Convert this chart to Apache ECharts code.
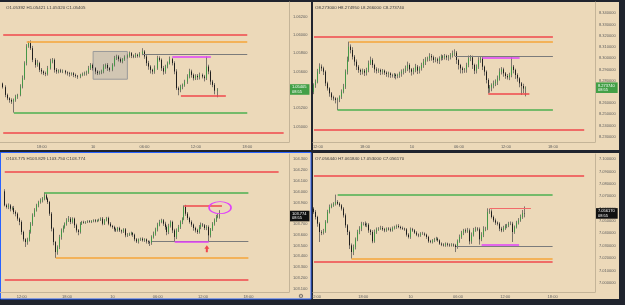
<!DOCTYPE html>
<html>
<head>
<meta charset="utf-8">
<script src="https://cdn.jsdelivr.net/npm/echarts@6/dist/echarts.min.js"></script>
<style>
html, body { margin: 0; padding: 0; background: #20242e; }
#main { width: 625px; height: 305px; }
</style>
</head>
<body>
<div id="main"></div>
<script>
// 15 minute bars, slot = bar number counted from 00:00 of day 9
var tlStart = 54;
var tlOpen = 1.05470;
var tlClose = [
    1.05430, 1.05346, 1.05309, 1.05291, 1.05273, 1.05291, 1.05328, 1.05346, 1.05437, 1.05528,
    1.05692, 1.05874, 1.05910, 1.05855, 1.05728, 1.05673, 1.05692, 1.05619, 1.05601, 1.05582,
    1.05575, 1.05637, 1.05710, 1.05728, 1.05619, 1.05601, 1.05612, 1.05601, 1.05608, 1.05590,
    1.05582, 1.05575, 1.05582, 1.05564, 1.05553, 1.05546, 1.05564, 1.05575, 1.05582, 1.05590,
    1.05637, 1.05673, 1.05637, 1.05601, 1.05582, 1.05590, 1.05601, 1.05655, 1.05673, 1.05637,
    1.05619, 1.05673, 1.05746, 1.05764, 1.05735, 1.05710, 1.05735, 1.05757, 1.05772, 1.05801,
    1.05772, 1.05764, 1.05783, 1.05772, 1.05794, 1.05819, 1.05764, 1.05692, 1.05655, 1.05619,
    1.05601, 1.05637, 1.05746, 1.05728, 1.05637, 1.05601, 1.05655, 1.05692, 1.05735, 1.05692,
    1.05601, 1.05419, 1.05400, 1.05437, 1.05455, 1.05491, 1.05546, 1.05601, 1.05564, 1.05528,
    1.05553, 1.05539, 1.05564, 1.05546, 1.05528, 1.05655, 1.05601, 1.05491, 1.05455, 1.05392,
    1.05405
];
// wicks in 0.00001
var tlWickUp = [
    10, 20, 15, 12, 18, 15, 20, 12, 25, 30,
    20, 25, 20, 30, 25, 20, 35, 15, 20, 12,
    18, 25, 30, 20, 15, 20, 12, 18, 15, 10,
    12, 15, 10, 12, 15, 10, 12, 15, 18, 20,
    25, 20, 15, 12, 15, 18, 20, 25, 15, 20,
    12, 18, 25, 20, 15, 18, 12, 20, 15, 18,
    12, 15, 20, 12, 18, 36, 15, 20, 25, 15,
    12, 30, 26, 20, 15, 25, 20, 18, 29, 15,
    20, 25, 18, 20, 15, 20, 25, 30, 20, 15,
    18, 20, 25, 15, 18, 109, 20, 15, 18, 20,
    16
];
var tlWickDn = [
    15, 25, 20, 30, 25, 120, 20, 25, 15, 20,
    18, 25, 15, 20, 25, 30, 20, 25, 30, 20,
    25, 18, 15, 20, 30, 25, 20, 15, 18, 20,
    25, 30, 20, 25, 20, 25, 18, 15, 20, 25,
    15, 20, 25, 30, 20, 15, 18, 20, 25, 30,
    20, 15, 18, 20, 25, 15, 20, 18, 15, 20,
    25, 18, 15, 20, 18, 15, 25, 30, 35, 40,
    30, 25, 18, 20, 30, 35, 25, 20, 15, 25,
    30, 20, 58, 25, 30, 20, 25, 20, 30, 25,
    20, 30, 25, 20, 35, 20, 30, 35, 25, 40,
    72
];
var tlTicks = [1.050, 1.052, 1.054, 1.056, 1.058, 1.060, 1.062];
var tlLevels = [
    ['red', 1.06000, 54, 168],
    ['orange', 1.05930, 65, 168],
    ['gray', 1.05794, 119, 168],
    ['magenta', 1.05764, 133, 151],
    ['red', 1.05342, 137, 158],
    ['green', 1.05153, 59, 168],
    ['red', 1.04938, 54, 185]
];
var tlBox = [96, 1.05819, 112, 1.05517];

var trStart = 46;
var trOpen = 8.27000;
var trClose = [
    8.27614, 8.27911, 8.28802, 8.29247, 8.29099, 8.28802, 8.27762, 8.27317, 8.26871, 8.26516,
    8.26426, 8.26277, 8.26337, 8.26574, 8.27020, 8.27465, 8.28802, 8.29842, 8.31030, 8.30733,
    8.30139, 8.29693, 8.29247, 8.28950, 8.28802, 8.28891, 8.28713, 8.28950, 8.29545, 8.29842,
    8.29396, 8.29010, 8.28891, 8.28950, 8.28802, 8.28891, 8.28713, 8.28594, 8.28653, 8.28505,
    8.28476, 8.28535, 8.28416, 8.28505, 8.28653, 8.28802, 8.28891, 8.29099, 8.29396, 8.29010,
    8.28802, 8.28950, 8.29247, 8.28891, 8.29099, 8.29396, 8.29693, 8.29901, 8.29990, 8.30198,
    8.30080, 8.29842, 8.29901, 8.29783, 8.29990, 8.30139, 8.30080, 8.30198, 8.30080, 8.30139,
    8.30258, 8.30436, 8.30495, 8.29842, 8.29396, 8.29099, 8.28950, 8.29010, 8.29396, 8.29990,
    8.30080, 8.29396, 8.28891, 8.29247, 8.29842, 8.29990, 8.29247, 8.28802, 8.28059, 8.27317,
    8.27407, 8.27614, 8.27762, 8.27911, 8.28208, 8.28802, 8.29010, 8.28653, 8.28416, 8.28298,
    8.28505, 8.29247, 8.28950, 8.28505, 8.28208, 8.27762, 8.27525, 8.27300, 8.27374
];
// wicks in 0.0001
var trWickUp = [
    15, 20, 25, 30, 20, 15, 12, 15, 10, 12,
    15, 10, 15, 12, 20, 25, 20, 30, 45, 20,
    25, 15, 20, 15, 12, 18, 15, 20, 25, 30,
    15, 12, 18, 15, 12, 15, 10, 12, 15, 10,
    12, 15, 10, 12, 15, 20, 18, 25, 30, 15,
    12, 20, 25, 15, 18, 20, 25, 20, 15, 25,
    18, 15, 20, 15, 18, 20, 15, 18, 12, 15,
    20, 25, 30, 15, 12, 10, 15, 12, 20, 25,
    20, 15, 12, 20, 25, 15, 12, 10, 12, 15,
    20, 15, 25, 20, 25, 30, 20, 15, 12, 18,
    20, 83, 15, 12, 15, 10, 12, 20, 12.1
];
var trWickDn = [
    20, 25, 15, 20, 25, 30, 25, 20, 30, 25,
    20, 30, 89, 25, 20, 15, 20, 25, 15, 30,
    25, 35, 30, 25, 30, 25, 30, 25, 20, 15,
    25, 30, 25, 20, 30, 25, 20, 25, 30, 25,
    20, 25, 30, 20, 25, 30, 25, 20, 25, 30,
    35, 25, 20, 30, 25, 20, 25, 30, 20, 25,
    30, 25, 20, 25, 30, 20, 25, 20, 25, 30,
    25, 20, 25, 35, 40, 45, 30, 25, 30, 20,
    25, 35, 30, 25, 20, 25, 30, 35, 30, 45,
    39, 35, 30, 25, 30, 20, 25, 30, 25, 20,
    25, 20, 30, 35, 30, 35, 80, 40, 70
];
var trTicks = [8.23, 8.24, 8.25, 8.26, 8.27, 8.28, 8.29, 8.30, 8.31, 8.32, 8.33, 8.34];
var trLevels = [
    ['red', 8.31921, 46, 168],
    ['orange', 8.31476, 64, 168],
    ['gray', 8.30139, 118, 168],
    ['magenta', 8.30080, 132, 151],
    ['red', 8.26871, 135, 156],
    ['green', 8.25387, 58, 168],
    ['red', 8.23666, 46, 184]
];

var blStart = 39;
var blOpen = 104.003;
var blClose = [
    103.873, 103.858, 103.873, 103.842, 103.848, 103.811, 103.796, 103.750, 103.719, 103.626,
    103.558, 103.533, 103.558, 103.626, 103.703, 103.781, 103.827, 103.873, 103.904, 103.920,
    103.935, 103.966, 103.935, 103.904, 103.796, 103.657, 103.533, 103.440, 103.487, 103.580,
    103.641, 103.672, 103.703, 103.734, 103.750, 103.719, 103.750, 103.688, 103.641, 103.626,
    103.703, 103.719, 103.713, 103.719, 103.725, 103.719, 103.728, 103.734, 103.725, 103.734,
    103.740, 103.750, 103.703, 103.734, 103.756, 103.703, 103.682, 103.672, 103.651, 103.641,
    103.663, 103.641, 103.632, 103.651, 103.595, 103.601, 103.610, 103.617, 103.601, 103.558,
    103.539, 103.558, 103.564, 103.549, 103.558, 103.539, 103.533, 103.527, 103.580, 103.610,
    103.651, 103.694, 103.719, 103.734, 103.703, 103.672, 103.626, 103.682, 103.719, 103.641,
    103.580, 103.641, 103.672, 103.719, 103.750, 103.858, 103.796, 103.756, 103.719, 103.694,
    103.663, 103.641, 103.626, 103.672, 103.694, 103.688, 103.663, 103.672, 103.595, 103.651,
    103.703, 103.734, 103.765, 103.775, 103.774
];
// wicks in 0.001
var blWickUp = [
    20, 15, 18, 12, 15, 20, 15, 12, 10, 15,
    12, 10, 15, 20, 15, 18, 20, 15, 12, 18,
    15, 28, 15, 12, 10, 15, 12, 10, 15, 20,
    18, 15, 12, 20, 24, 15, 12, 10, 15, 12,
    15, 10, 12, 8, 10, 12, 8, 10, 12, 8,
    10, 12, 15, 12, 10, 12, 15, 10, 12, 15,
    10, 12, 8, 10, 12, 15, 10, 12, 8, 10,
    12, 8, 10, 12, 10, 8, 10, 12, 15, 20,
    15, 18, 20, 15, 12, 18, 15, 20, 15, 12,
    15, 18, 20, 15, 12, 15, 20, 15, 12, 15,
    10, 12, 15, 18, 20, 15, 12, 18, 15, 12,
    15, 18, 20, 25, 54
];
var blWickDn = [
    10, 15, 20, 25, 15, 20, 25, 20, 30, 25,
    20, 46, 25, 20, 15, 20, 15, 12, 18, 15,
    20, 15, 12, 18, 20, 25, 30, 55, 25, 20,
    25, 20, 15, 18, 15, 20, 15, 25, 20, 30,
    15, 12, 10, 12, 10, 8, 10, 12, 10, 8,
    10, 12, 15, 12, 10, 15, 12, 15, 20, 15,
    12, 15, 20, 15, 18, 15, 12, 15, 20, 18,
    15, 20, 15, 12, 15, 20, 18, 31, 20, 15,
    18, 20, 15, 12, 20, 25, 30, 20, 15, 25,
    41, 20, 15, 18, 20, 15, 20, 18, 15, 20,
    25, 20, 18, 15, 20, 15, 18, 20, 56, 20,
    15, 18, 15, 12, 24
];
var blTicks = [103.1, 103.2, 103.3, 103.4, 103.5, 103.6, 103.7, 103.8, 103.9, 104.0, 104.1, 104.2, 104.3];
var blLevels = [
    ['red', 104.1825, 39, 184],
    ['green', 103.994, 60, 168],
    ['red', 103.873, 134, 154],
    ['gray', 103.539, 117, 168],
    ['magenta', 103.539, 129, 147],
    ['orange', 103.385, 66, 168],
    ['red', 103.181, 39, 168]
];
var blCircle = [153, 103.852];
var blArrow = [146, 103.471];

var brStart = 47;
var brOpen = 7.06002;
var brClose = [
    7.05732, 7.05327, 7.04787, 7.04111, 7.04057, 7.04165, 7.04922, 7.05732, 7.06137, 7.06272,
    7.06407, 7.06542, 7.06407, 7.06272, 7.06002, 7.05462, 7.04652, 7.04111, 7.03031, 7.02491,
    7.02896, 7.03517, 7.04111, 7.04382, 7.04787, 7.04787, 7.04652, 7.04706, 7.04246, 7.04111,
    7.03355, 7.04111, 7.04327, 7.04382, 7.04436, 7.04327, 7.04246, 7.04382, 7.04327, 7.04246,
    7.04436, 7.04517, 7.04598, 7.04517, 7.04436, 7.04382, 7.04327, 7.03895, 7.03706, 7.04327,
    7.04246, 7.04057, 7.03895, 7.03841, 7.03976, 7.03976, 7.03895, 7.03706, 7.03355, 7.03301,
    7.03436, 7.03517, 7.03571, 7.03436, 7.03166, 7.03085, 7.03031, 7.03166, 7.03085, 7.03031,
    7.03085, 7.03031, 7.02896, 7.03355, 7.03706, 7.04057, 7.04246, 7.04165, 7.04246, 7.03355,
    7.03895, 7.04246, 7.04382, 7.04327, 7.03517, 7.03895, 7.04327, 7.04382, 7.05732, 7.05786,
    7.05327, 7.05057, 7.04868, 7.04787, 7.04382, 7.04246, 7.04436, 7.04598, 7.04652, 7.04787,
    7.04787, 7.04111, 7.04517, 7.04868, 7.05057, 7.05327, 7.05644, 7.05617
];
// wicks in 0.0001
var brWickUp = [
    12, 15, 10, 12, 15, 20, 15, 18, 20, 15,
    12, 60, 15, 12, 10, 12, 15, 10, 12, 15,
    20, 15, 18, 20, 15, 12, 18, 15, 12, 10,
    15, 20, 15, 12, 18, 15, 12, 10, 12, 15,
    12, 10, 12, 15, 10, 12, 8, 10, 12, 15,
    12, 10, 12, 10, 12, 15, 10, 8, 10, 12,
    10, 12, 15, 10, 8, 10, 12, 10, 8, 10,
    12, 10, 12, 15, 20, 15, 12, 15, 20, 15,
    18, 20, 15, 12, 15, 20, 25, 15, 30, 21,
    15, 12, 15, 10, 12, 15, 18, 15, 12, 15,
    18, 15, 12, 15, 18, 20, 25, 54
];
var brWickDn = [
    15, 20, 25, 81, 20, 15, 12, 10, 12, 10,
    12, 15, 10, 12, 15, 18, 20, 25, 30, 54,
    25, 20, 15, 18, 20, 15, 12, 15, 20, 25,
    15, 12, 15, 12, 10, 12, 15, 12, 10, 12,
    10, 12, 15, 10, 12, 10, 12, 15, 12, 15,
    12, 10, 12, 15, 12, 10, 12, 15, 12, 10,
    12, 15, 10, 12, 10, 12, 10, 12, 15, 12,
    10, 12, 41, 15, 12, 15, 20, 15, 12, 25,
    20, 15, 12, 15, 43, 15, 20, 15, 12, 15,
    12, 15, 18, 15, 20, 15, 12, 15, 18, 15,
    12, 81, 15, 12, 15, 12, 15, 31.7
];
var brTicks = [7.00, 7.01, 7.02, 7.03, 7.04, 7.05, 7.06, 7.07, 7.08, 7.09, 7.10];
var brLevels = [
    ['red', 7.08703, 47, 184],
    ['green', 7.07137, 59, 168],
    ['salmon', 7.06002, 136, 157],
    ['gray', 7.02950, 119, 168],
    ['magenta', 7.03085, 132, 151],
    ['orange', 7.01950, 66, 168],
    ['red', 7.01680, 47, 168]
];

var countdown = '08:55';

var levelStyle = {
    red: {color: '#f0474d', width: 1.5},
    salmon: {color: '#f26b6b', width: 1.2},
    orange: {color: '#f6a43a', width: 1.5},
    green: {color: '#4caf50', width: 1.5},
    gray: {color: '#7b7b7b', width: 1},
    magenta: {color: '#e040fb', width: 1.5}
};

var FONT = 'Liberation Sans';
var BG = '#ecd9b9';
var AXIS_LINE = '#c4b498';
var LABEL = '#5e5e5e';
var WICK = '#6f6a63';

// layout of the four panes
var panes = [
    {grid: {left: 0, top: 2, width: 289, height: 140}, catFrom: 53, catCount: 135, min: 1.04833, max: 1.06358, digits: 5,
     start: tlStart, open: tlOpen, close: tlClose, up: tlWickUp, dn: tlWickDn, unit: 0.00001,
     ticks: tlTicks, levels: tlLevels, priceBg: '#43a047', head: [6, 8]},
    {grid: {left: 313, top: 2, width: 282, height: 140}, catFrom: 46, catCount: 144, min: 8.22536, max: 8.35010, digits: 6,
     start: trStart, open: trOpen, close: trClose, up: trWickUp, dn: trWickDn, unit: 0.0001,
     ticks: trTicks, levels: trLevels, priceBg: '#43a047', head: [315, 8]},
    {grid: {left: 0, top: 154, width: 289, height: 138}, catFrom: 37, catCount: 153, min: 103.0694, max: 104.3495, digits: 3,
     start: blStart, open: blOpen, close: blClose, up: blWickUp, dn: blWickDn, unit: 0.001,
     ticks: blTicks, levels: blLevels, priceBg: '#111111', head: [6, 159]},
    {grid: {left: 313, top: 154, width: 282, height: 138}, catFrom: 47, catCount: 143, min: 6.99249, max: 7.10432, digits: 6,
     start: brStart, open: brOpen, close: brClose, up: brWickUp, dn: brWickDn, unit: 0.0001,
     ticks: brTicks, levels: brLevels, priceBg: '#111111', head: [315, 159]}
];

function slotLabel(slot) {
    var m = slot % 96;
    if (m === 0) return String(9 + slot / 96);
    var h = m / 4;
    return (h < 10 ? '0' : '') + h + ':00';
}

function makeCandles(p) {
    var full = [], body = [], prev = p.open;
    for (var i = 0; i < p.close.length; i++) {
        var o = prev, c = p.close[i];
        var top = Math.max(o, c), bot = Math.min(o, c);
        var x = String(p.start + i);
        full.push([x, o, c, bot - (p.dn[i] || 0) * p.unit, top + (p.up[i] || 0) * p.unit]);
        body.push([x, o, c, bot, top]);
        prev = c;
    }
    return {full: full, body: body};
}

var grids = [], xAxes = [], yAxes = [], series = [], graphics = [];

graphics.push({type: 'rect', z: -10, shape: {x: 0, y: 2, width: 311, height: 148}, style: {fill: BG}});
graphics.push({type: 'rect', z: -10, shape: {x: 313, y: 2, width: 306, height: 148}, style: {fill: BG}});
graphics.push({type: 'rect', z: -10, shape: {x: 0.5, y: 152.5, width: 310.5, height: 146.5}, style: {fill: BG, stroke: '#2962ff', lineWidth: 1}});
graphics.push({type: 'rect', z: -10, shape: {x: 313, y: 153, width: 306, height: 146}, style: {fill: BG}});
graphics.push({type: 'text', x: 301, y: 296, style: {text: '\u2699', fill: '#555', font: '6px DejaVu Sans', textAlign: 'center', textVerticalAlign: 'middle'}});

panes.forEach(function (p, k) {
    var cats = [];
    for (var s = p.catFrom; s < p.catFrom + p.catCount; s++) cats.push(String(s));
    var candles = makeCandles(p);
    var last = candles.full[candles.full.length - 1];

    grids.push(p.grid);
    xAxes.push({
        gridIndex: k, type: 'category', data: cats, boundaryGap: true,
        axisLine: {show: true, lineStyle: {color: AXIS_LINE, width: 1}},
        axisTick: {show: false},
        splitLine: {show: false},
        axisLabel: {
            interval: function (i, v) { return (+v) % 24 === 0; },
            formatter: function (v) { return slotLabel(+v); },
            fontSize: 4, margin: 3, color: LABEL, fontFamily: FONT
        }
    });
    yAxes.push({
        gridIndex: k, type: 'value', position: 'right', min: p.min, max: p.max,
        axisLine: {show: true, lineStyle: {color: AXIS_LINE, width: 1}},
        axisTick: {show: false},
        splitLine: {show: false},
        axisLabel: {
            customValues: p.ticks,
            formatter: function (v) { return v.toFixed(p.digits); },
            fontSize: 4, margin: 4, color: LABEL, fontFamily: FONT
        }
    });

    series.push({
        type: 'candlestick', xAxisIndex: k, yAxisIndex: k, data: candles.full,
        encode: {x: 0, y: [1, 2, 3, 4]}, barWidth: '60%', animation: false, silent: true,
        itemStyle: {color: WICK, color0: WICK, borderColor: WICK, borderColor0: WICK, borderWidth: 0.9}
    });

    var lines = p.levels.map(function (lv) {
        var st = levelStyle[lv[0]];
        return [
            {coord: [String(lv[2]), lv[1]], lineStyle: {color: st.color, width: st.width, type: 'solid'}},
            {coord: [String(lv[3]), lv[1]]}
        ];
    });

    var body = {
        type: 'candlestick', xAxisIndex: k, yAxisIndex: k, data: candles.body,
        encode: {x: 0, y: [1, 2, 3, 4]}, barWidth: '60%', animation: false, silent: true,
        itemStyle: {color: '#4caf50', color0: '#141414', borderColor: '#3e9a43', borderColor0: '#141414', borderWidth: 0.9},
        markLine: {
            silent: true, animation: false, symbol: ['none', 'none'], precision: 8,
            label: {show: false},
            data: lines
        }
    };
    if (k === 0) {
        body.markArea = {
            silent: true, animation: false,
            itemStyle: {color: 'rgba(170,170,170,0.4)', borderColor: '#9a9a9a', borderWidth: 1},
            data: [[{coord: [String(tlBox[0]), tlBox[1]]}, {coord: [String(tlBox[2]), tlBox[3]]}]]
        };
    }
    if (k === 2) {
        body.markPoint = {
            silent: true, animation: false, label: {show: false},
            data: [
                {coord: [String(blCircle[0]), blCircle[1]], symbol: 'circle', symbolSize: [22, 12],
                 itemStyle: {color: 'rgba(0,0,0,0)', borderColor: '#e040fb', borderWidth: 1.2}},
                {coord: [String(blArrow[0]), blArrow[1]], symbol: 'path://M5,0L10,5L7,5L7,10L3,10L3,5L0,5Z',
                 symbolSize: [5, 7], itemStyle: {color: '#f0474d'}}
            ]
        };
    }
    series.push(body);

    // last price tag on the price scale
    series.push({
        type: 'line', xAxisIndex: k, yAxisIndex: k, data: [], silent: true, animation: false,
        markLine: {
            silent: true, animation: false, symbol: ['none', 'none'], precision: 8,
            lineStyle: {color: 'rgba(0,0,0,0)', width: 0},
            label: {
                show: true, position: 'end', distance: 1,
                formatter: last[2].toFixed(p.digits) + '\n' + countdown,
                color: '#fff', backgroundColor: p.priceBg, fontSize: 4, lineHeight: 4.6,
                padding: [0.8, 3, 0.6, 2], fontFamily: FONT
            },
            data: [{yAxis: last[2]}]
        }
    });

    var head = 'O' + last[1].toFixed(p.digits) + ' H' + last[4].toFixed(p.digits) +
        ' L' + last[3].toFixed(p.digits) + ' C' + last[2].toFixed(p.digits);
    graphics.push({
        type: 'text', x: p.head[0], y: p.head[1],
        style: {text: head, fill: '#3c3c3c', font: '4.4px ' + FONT, textVerticalAlign: 'middle'}
    });
});

var chart = echarts.init(document.getElementById('main'), null, {renderer: 'canvas'});
chart.setOption({
    backgroundColor: '#20242e',
    animation: false,
    graphic: graphics,
    grid: grids,
    xAxis: xAxes,
    yAxis: yAxes,
    series: series
});
</script>
</body>
</html>
